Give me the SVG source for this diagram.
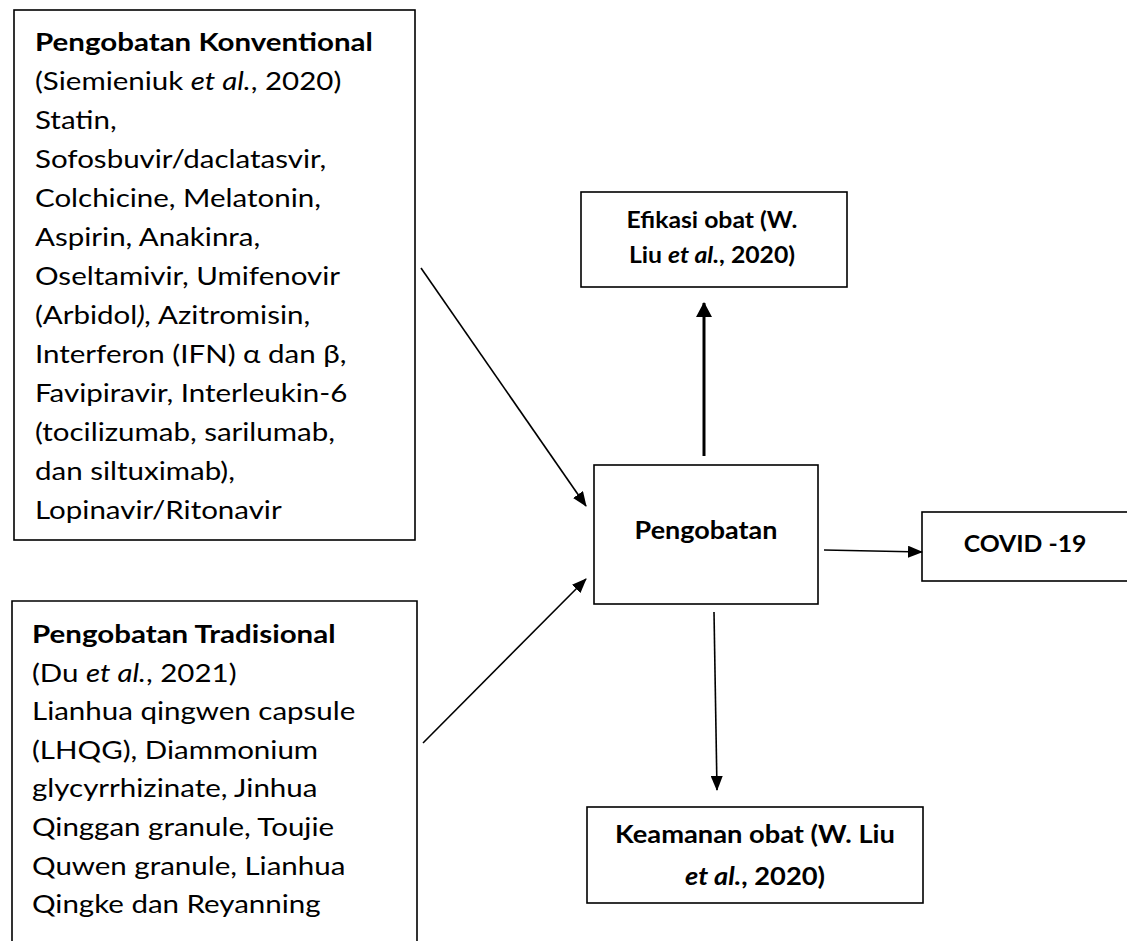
<svg xmlns="http://www.w3.org/2000/svg" width="1127" height="941" viewBox="0 0 1127 941">
<defs>
<style>
.box{fill:#fff;stroke:#000;stroke-width:1.6}
.t{font-family:Lato,"Liberation Sans",sans-serif;font-size:25px;fill:#000}
.b{font-weight:bold}
.i{font-style:italic}
.c{text-anchor:middle}
.con{stroke:#000;stroke-width:1.6;fill:none}
.thick{stroke-width:3}
</style>
<marker id="ah" viewBox="0 0 15 12" refX="14" refY="6" markerWidth="15" markerHeight="12" markerUnits="userSpaceOnUse" orient="auto"><path d="M0,0 L15,6 L0,12 z" fill="#000"/></marker>
<marker id="ahb" viewBox="0 0 15 16" refX="14" refY="8" markerWidth="15" markerHeight="16" markerUnits="userSpaceOnUse" orient="auto"><path d="M0,0 L15,8 L0,16 z" fill="#000"/></marker>
</defs>
<rect width="1127" height="941" fill="#fff"/>

<g id="konventional">
<rect class="box" x="14" y="10" width="401" height="530"/>
<g class="t" transform="translate(35 0) scale(1.18 1)">
<text x="0" y="51" class="b">Pengobatan Konventional</text>
<text x="0" y="90">(Siemieniuk <tspan class="i">et al.</tspan>, 2020)</text>
<text x="0" y="129">Statin,</text>
<text x="0" y="168">Sofosbuvir/daclatasvir,</text>
<text x="0" y="207">Colchicine, Melatonin,</text>
<text x="0" y="246">Aspirin, Anakinra,</text>
<text x="0" y="285">Oseltamivir, Umifenovir</text>
<text x="0" y="324">(Arbidol<tspan class="i">),</tspan> Azitromisin,</text>
<text x="0" y="363">Interferon (IFN) α dan β,</text>
<text x="0" y="402">Favipiravir, Interleukin-6</text>
<text x="0" y="441">(tocilizumab, sarilumab,</text>
<text x="0" y="480">dan siltuximab),</text>
<text x="0" y="519">Lopinavir/Ritonavir</text>
</g>
</g>

<g id="tradisional">
<path class="box" d="M12,941 V601 H417 V941"/>
<g class="t" transform="translate(32 0) scale(1.18 1)">
<text x="0" y="643" class="b">Pengobatan Tradisional</text>
<text x="0" y="681.6">(Du <tspan class="i">et al.</tspan>, 2021)</text>
<text x="0" y="720.2">Lianhua qingwen capsule</text>
<text x="0" y="758.8">(LHQG), Diammonium</text>
<text x="0" y="797.4">glycyrrhizinate, Jinhua</text>
<text x="0" y="836">Qinggan granule, Toujie</text>
<text x="0" y="874.6">Quwen granule, Lianhua</text>
<text x="0" y="913.2">Qingke dan Reyanning</text>
</g>
</g>

<g id="efikasi">
<rect class="box" x="581" y="192" width="266" height="95"/>
<g class="t b c" transform="translate(712 0) scale(1.1 1)" style="font-size:22.5px">
<text x="0" y="228">Efikasi obat (W.</text>
<text x="0" y="263">Liu <tspan class="i">et al.</tspan>, 2020)</text>
</g>
</g>

<g id="pengobatan">
<rect class="box" x="594" y="465" width="224" height="139"/>
<g class="t b c" transform="translate(706 0) scale(1.1 1)" style="font-size:24.5px">
<text x="0" y="539">Pengobatan</text>
</g>
</g>

<g id="covid">
<rect class="box" x="922" y="512" width="215" height="69"/>
<g class="t b c" transform="translate(1025 0) scale(1.1 1)" style="font-size:22.5px">
<text x="0" y="552">COVID -19</text>
</g>
</g>

<g id="keamanan">
<rect class="box" x="587" y="807" width="336" height="96"/>
<g class="t b c" transform="translate(755 0) scale(1.1 1)" style="font-size:24.8px">
<text x="0" y="843">Keamanan obat (W. Liu</text>
<text x="0" y="885"><tspan class="i">et al.</tspan>, 2020)</text>
</g>
</g>

<g id="connectors">
<line class="con" x1="421" y1="268" x2="586" y2="506" marker-end="url(#ah)"/>
<line class="con" x1="423" y1="743" x2="586" y2="579" marker-end="url(#ah)"/>
<line class="con thick" x1="704" y1="456" x2="704" y2="303" marker-end="url(#ahb)"/>
<line class="con" x1="824" y1="550" x2="922" y2="552" marker-end="url(#ah)"/>
<line class="con" x1="714" y1="612" x2="717" y2="790" marker-end="url(#ah)"/>
</g>
</svg>
